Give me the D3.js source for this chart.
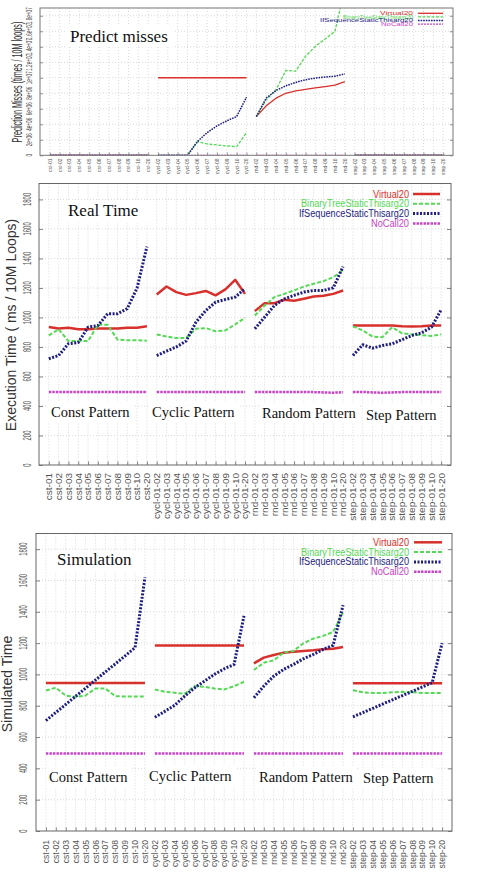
<!DOCTYPE html>
<html><head><meta charset="utf-8">
<script src="https://cdn.jsdelivr.net/npm/d3@7"></script>
<style>body{margin:0;background:#fff}svg{display:block}</style>
</head><body>
<script>
// ---------- categories & tick labels ----------
const catLong = ["cst-01","cst-02","cst-03","cst-04","cst-05","cst-06","cst-07","cst-08","cst-09","cst-10","cst-20",
  "cycl-01-02","cycl-01-03","cycl-01-04","cycl-01-05","cycl-01-06","cycl-01-07","cycl-01-08","cycl-01-09","cycl-01-10","cycl-01-20",
  "rnd-01-02","rnd-01-03","rnd-01-04","rnd-01-05","rnd-01-06","rnd-01-07","rnd-01-08","rnd-01-09","rnd-01-10","rnd-01-20",
  "step-01-02","step-01-03","step-01-04","step-01-05","step-01-06","step-01-07","step-01-08","step-01-09","step-01-10","step-01-20"];
const catShort = ["cst-01","cst-02","cst-03","cst-04","cst-05","cst-06","cst-07","cst-08","cst-09","cst-10","cst-20",
  "cycl-02","cycl-03","cycl-04","cycl-05","cycl-06","cycl-07","cycl-08","cycl-09","cycl-10","cycl-20",
  "rnd-02","rnd-03","rnd-04","rnd-05","rnd-06","rnd-07","rnd-08","rnd-09","rnd-10","rnd-20",
  "step-02","step-03","step-04","step-05","step-06","step-07","step-08","step-09","step-10","step-20"];
const groupStart = [0, 11, 21, 31];
const groupEnd   = [11, 21, 31, 41];
const seriesNames = ["Virtual20","BinaryTreeStaticThisarg20","IfSequenceStaticThisarg20","NoCall20"];
const patternLabels = ["Const Pattern","Cyclic Pattern","Random Pattern","Step Pattern"];
const missTicks = [0,2e6,4e6,6e6,8e6,1e7,1.2e7,1.4e7,1.6e7,1.8e7];
const missTickLabels = ["0","2e+06","4e+06","6e+06","8e+06","1e+07","1.2e+07","1.4e+07","1.6e+07","1.8e+07"];
const timeTicks = [0,200,400,600,800,1000,1200,1400,1600,1800];
const timeTickLabels = ["0","200","400","600","800","1000","1200","1400","1600","1800"];

// ---------- Predict misses (times / 10M loops) ----------
const missVirtual = [0,0,0,0,0,0,0,0,0,0,0,
  1.0e7,1.0e7,1.0e7,1.0e7,1.0e7,1.0e7,1.0e7,1.0e7,1.0e7,1.0e7,
  5.0e6,6.38e6,7.37e6,8.0e6,8.32e6,8.5e6,8.7e6,8.87e6,9.05e6,9.5e6,
  0,0,0,0,0,0,0,0,0,0];
const missBinary = [0,0,0,0,0,0,0,0,0,0,0,
  0,0,0,0,1.75e6,1.46e6,1.33e6,1.2e6,1.12e6,2.93e6,
  5.0e6,7.15e6,8.45e6,10.95e6,10.85e6,12.76e6,14.05e6,15.0e6,16.0e6,21.6e6,
  0,0,0,0,0,0,0,0,0,0];
const missIfSeq = [0,0,0,0,0,0,0,0,0,0,0,
  0,0,0,0,1.76e6,2.93e6,3.79e6,4.45e6,5.0e6,7.5e6,
  5.0e6,7.37e6,8.36e6,8.96e6,9.4e6,9.75e6,9.96e6,10.1e6,10.2e6,10.5e6,
  0,0,0,0,0,0,0,0,0,0];
const missNoCall = [0,0,0,0,0,0,0,0,0,0,0, 0,0,0,0,0,0,0,0,0,0, 0,0,0,0,0,0,0,0,0,0, 0,0,0,0,0,0,0,0,0,0];

// ---------- Real time (ms / 10M loops) ----------
const realVirtual = [935,925,930,920,920,925,925,925,930,930,940,
  1156,1210,1172,1153,1165,1180,1150,1190,1255,1160,
  1043,1097,1097,1120,1113,1127,1142,1147,1160,1183,
  945,945,945,945,945,940,938,940,945,945];
const realBinary = [878,920,840,840,840,950,950,850,845,845,843,
  885,871,860,862,923,928,907,912,953,998,
  1013,1080,1138,1160,1183,1210,1228,1246,1273,1320,
  940,912,871,866,934,893,885,880,875,885];
const realIfSeq = [720,742,822,830,934,945,1025,1025,1060,1200,1480,
  742,772,800,840,968,1047,1104,1122,1138,1195,
  923,1002,1081,1126,1150,1172,1183,1183,1201,1345,
  742,815,792,810,822,849,878,896,934,1052];
const realNoCall = [495,495,495,495,495,494,494,495,495,495,495,
  495,495,495,495,495,495,495,495,495,495,
  495,495,495,495,495,495,494,492,490,493,
  495,495,492,490,492,494,495,495,495,495];

// ---------- Simulated time ----------
const simVirtual = [945,945,945,945,945,945,945,945,945,945,945,
  1185,1185,1185,1185,1185,1185,1185,1185,1185,1185,
  1071,1107,1124,1139,1145,1150,1154,1160,1164,1175,
  944,944,944,944,944,944,944,944,944,944];
const simBinary = [897,915,865,857,865,910,910,861,859,859,859,
  904,889,883,876,925,921,910,904,925,953,
  1028,1075,1090,1139,1150,1199,1229,1246,1271,1395,
  899,886,882,882,886,889,886,882,882,882];
const simIfSeq = [705,757,808,860,912,964,1016,1067,1119,1171,1620,
  726,764,803,861,914,957,1000,1036,1064,1374,
  851,925,989,1032,1064,1100,1128,1160,1186,1442,
  729,756,783,811,838,865,892,920,947,1200];
const simNoCall = [495,495,495,495,495,495,495,495,495,495,495,
  495,495,495,495,495,495,495,495,495,495,
  495,495,495,495,495,495,495,495,495,495,
  495,495,495,495,495,495,495,495,495,495];

// ---------- drawing ----------
const W = 481, H = 873;
const colors = ["#d8302c", "#55d855", "#1e1e82", "#c844c8"];
const SANS = "'Liberation Sans', Arial, sans-serif";
const SERIF = "'Liberation Serif', 'Times New Roman', serif";

const svg = d3.select("body").append("svg").attr("width", W).attr("height", H);

function drawPanel(cfg) {
  const g = svg.append("g");
  const x = d3.scaleLinear().domain([-1, 41]).range([cfg.left, cfg.right]);
  const y = d3.scaleLinear().domain([0, cfg.ymax]).range([cfg.bottom, cfg.top]);
  const idx = d3.range(41);

  // grid
  g.append("g").selectAll("line").data(idx).join("line")
    .attr("x1", d => x(d)).attr("x2", d => x(d)).attr("y1", cfg.top).attr("y2", cfg.bottom)
    .attr("stroke", "#cfcfcf").attr("stroke-width", 0.8).attr("stroke-dasharray", "1,2");
  g.append("g").selectAll("line").data(cfg.ticks.slice(1)).join("line")
    .attr("x1", cfg.left).attr("x2", cfg.right).attr("y1", d => y(d)).attr("y2", d => y(d))
    .attr("stroke", "#cfcfcf").attr("stroke-width", 0.8).attr("stroke-dasharray", "1,2");

  // white annotation boxes
  const boxes = g.append("g");
  cfg.boxes.forEach(b => boxes.append("rect").attr("x", b[0]).attr("y", b[1]).attr("width", b[2]).attr("height", b[3]).attr("fill", "#fff"));

  // clip
  const clipId = "clip" + cfg.id;
  svg.append("clipPath").attr("id", clipId).append("rect")
    .attr("x", cfg.left).attr("y", cfg.top).attr("width", cfg.right - cfg.left).attr("height", cfg.bottom - cfg.top);

  const line = d3.line().x(d => x(d[0])).y(d => y(d[1]));
  const lg = g.append("g").attr("clip-path", `url(#${clipId})`);
  cfg.series.forEach((vals, s) => {
    for (let k = 0; k < 4; k++) {
      const pts = d3.range(groupStart[k], groupEnd[k]).map(i => [i, vals[i]]);
      lg.append("path").attr("d", line(pts)).attr("fill", "none")
        .attr("stroke", colors[s]).attr("stroke-width", cfg.widths[s])
        .attr("stroke-dasharray", cfg.dashes[s]).attr("stroke-linejoin", "round");
    }
  });

  // axes ticks (inward, mirrored)
  const tl = d3.axisLeft(y).tickValues(cfg.ticks).tickSizeInner(-cfg.tick).tickSizeOuter(0).tickFormat("");
  const tr = d3.axisRight(y).tickValues(cfg.ticks).tickSizeInner(-cfg.tick).tickSizeOuter(0).tickFormat("");
  const tb = d3.axisBottom(x).tickValues(idx).tickSizeInner(-cfg.tick * 0.9).tickSizeOuter(0).tickFormat("");
  [[tl, `translate(${cfg.left},0)`], [tr, `translate(${cfg.right},0)`], [tb, `translate(0,${cfg.bottom})`]].forEach(([ax, tf]) => {
    const a = g.append("g").attr("transform", tf).call(ax);
    a.select(".domain").remove();
    a.selectAll("line").attr("stroke", cfg.frame).attr("stroke-width", 0.8);
  });
  g.append("rect").attr("x", cfg.left).attr("y", cfg.top).attr("width", cfg.right - cfg.left).attr("height", cfg.bottom - cfg.top)
    .attr("fill", "none").attr("stroke", cfg.frame).attr("stroke-width", 1);

  // y tick labels (rotated, condensed)
  g.append("g").selectAll("text").data(cfg.ticks).join("text")
    .attr("transform", (d) => `translate(${cfg.ytx},${y(d)}) rotate(-90) scale(${cfg.ytScale},1)`)
    .attr("text-anchor", "middle").attr("dy", "0.35em")
    .attr("font-family", SANS).attr("font-size", cfg.ytSize).attr("fill", "#555")
    .text((d, i) => cfg.tickLabels[i]);

  // x tick labels
  g.append("g").selectAll("text").data(idx).join("text")
    .attr("transform", d => `translate(${x(d)},${cfg.xlTop}) rotate(-90) scale(${cfg.xlScale},1)`)
    .attr("text-anchor", "end").attr("dy", "0.35em")
    .attr("font-family", SANS).attr("font-size", cfg.xlSize).attr("fill", "#555")
    .text(d => cfg.cats[d]);

  // y axis title
  g.append("text")
    .attr("transform", `translate(${cfg.yTitle[0]},${cfg.yTitle[1]}) rotate(-90) scale(${cfg.yTitle[3]},1)`)
    .attr("text-anchor", "middle").attr("font-family", SANS).attr("font-size", cfg.yTitle[2]).attr("fill", "#333")
    .text(cfg.yTitleText);

  // panel title
  g.append("text").attr("x", cfg.title[0]).attr("y", cfg.title[1]).attr("font-family", SERIF)
    .attr("font-size", cfg.title[2]).attr("fill", "#111").text(cfg.titleText);

  // pattern labels
  if (cfg.patterns) {
    cfg.patterns.forEach((p, k) => {
      g.append("text").attr("x", p[0]).attr("y", p[1]).attr("font-family", SERIF)
        .attr("font-size", cfg.patternSize).attr("fill", "#111").text(patternLabels[k]);
    });
  }

  // legend
  seriesNames.forEach((name, s) => {
    const ly = cfg.legend.y0 + s * cfg.legend.dy;
    g.append("text").attr("x", cfg.legend.textEnd).attr("y", ly).attr("dy", "0.35em")
      .attr("text-anchor", "end").attr("font-family", SANS).attr("font-size", cfg.legend.size)
      .attr("fill", colors[s]).attr("textLength", cfg.legend.lengths[s]).attr("lengthAdjust", "spacingAndGlyphs")
      .text(name);
    g.append("line").attr("x1", cfg.legend.x1).attr("x2", cfg.legend.x2).attr("y1", ly).attr("y2", ly)
      .attr("stroke", colors[s]).attr("stroke-width", cfg.widths[s]).attr("stroke-dasharray", cfg.dashes[s]);
  });
}

// Panel 1: prediction misses
drawPanel({
  id: 1, left: 40, right: 453, top: 8, bottom: 155.3, ymax: 1.9e7,
  ticks: missTicks, tickLabels: missTickLabels, tick: 3, frame: "#777",
  series: [missVirtual, missBinary, missIfSeq, missNoCall],
  widths: [1.3, 1.3, 1.5, 1.3], dashes: [null, "3,1.5", "1.6,1", "2,1"],
  ytx: 29.5, ytScale: 0.55, ytSize: 8.5,
  cats: catShort, xlTop: 158.5, xlScale: 0.9, xlSize: 5.5,
  yTitle: [22, 82, 14, 0.52], yTitleText: "Prediction Misses (times / 10M loops)",
  title: [70, 41.5, 17], titleText: "Predict misses",
  boxes: [[65, 25, 108, 22]],
  legend: { y0: 13.3, dy: 3.6, textEnd: 413, size: 4.8, lengths: [33, 70, 93, 32], x1: 418, x2: 443 }
});

// Panel 2: real time
drawPanel({
  id: 2, left: 39, right: 451, top: 183.5, bottom: 465, ymax: 1908,
  ticks: timeTicks, tickLabels: timeTickLabels, tick: 4, frame: "#666",
  series: [realVirtual, realBinary, realIfSeq, realNoCall],
  widths: [2.5, 2, 3, 2.5], dashes: [null, "4,2", "2,1.5", "2.5,1"],
  ytx: 27, ytScale: 0.6, ytSize: 10,
  cats: catLong, xlTop: 473, xlScale: 1.05, xlSize: 9.5,
  yTitle: [16, 325, 14, 1], yTitleText: "Execution Time ( ms / 10M Loops)",
  title: [68, 216, 17], titleText: "Real Time",
  boxes: [[63, 200, 92, 23], [48, 402, 86, 20], [149, 401, 90, 21], [259, 403, 99, 20], [363, 404, 77, 21]],
  patterns: [[51, 417], [152, 416.5], [262, 418], [366, 420]], patternSize: 14.5,
  legend: { y0: 194, dy: 9.8, textEnd: 409, size: 10, lengths: [36, 108, 110, 38], x1: 413, x2: 440 }
});

// Panel 3: simulated time
drawPanel({
  id: 3, left: 36, right: 452, top: 533.5, bottom: 831, ymax: 1900,
  ticks: timeTicks, tickLabels: timeTickLabels, tick: 4, frame: "#666",
  series: [simVirtual, simBinary, simIfSeq, simNoCall],
  widths: [2.5, 2, 3, 2.5], dashes: [null, "4,2", "2,1.5", "2.5,1"],
  ytx: 23.5, ytScale: 0.6, ytSize: 10,
  cats: catShort, xlTop: 840, xlScale: 0.95, xlSize: 9,
  yTitle: [12, 684, 14, 1], yTitleText: "Simulated Time",
  title: [57, 565, 17], titleText: "Simulation",
  boxes: [[50, 550, 93, 22], [46, 767, 86, 20], [146, 765, 90, 21], [256, 767, 100, 20], [360, 768, 78, 21]],
  patterns: [[49, 782], [149, 781], [259, 782], [363, 783]], patternSize: 14.5,
  legend: { y0: 542.3, dy: 9.8, textEnd: 409, size: 10, lengths: [36, 108, 110, 38], x1: 414, x2: 442 }
});
</script>
</body></html>
